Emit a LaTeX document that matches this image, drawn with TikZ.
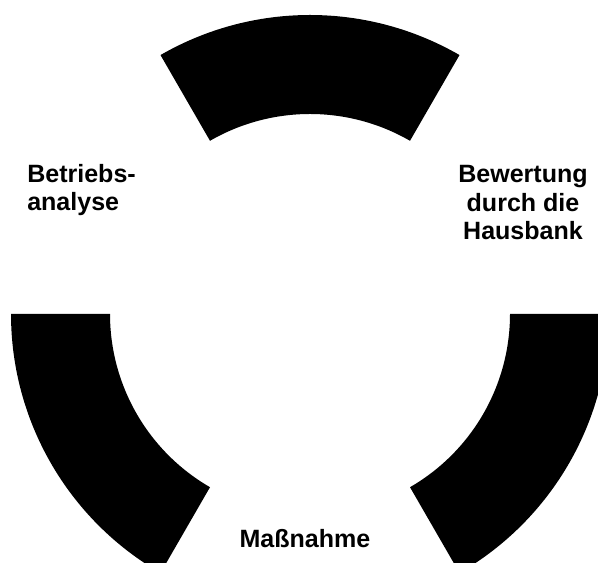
\documentclass[tikz,border=0pt]{standalone}
\usepackage{fontspec}
\setmainfont{Liberation Sans}
\usepackage{xcolor}
\usepackage{tikz}
\usetikzlibrary{positioning}
\definecolor{segclr}{RGB}{0,0,0}
\definecolor{txtclr}{RGB}{0,0,0}
\tikzset{
  seg/.style={fill=segclr,draw=none},
  lbl/.style={text=txtclr,inner sep=0pt,
              font=\fontsize{17.8}{20.4}\selectfont\bfseries},
}

\begin{document}
\begin{tikzpicture}[x=0.025cm,y=0.025cm]
\useasboundingbox (0,0) rectangle (598,563);
\clip (0,0) rectangle (598,563);
\coordinate (ctr) at (310,249);
% three ring segments
\foreach \a in {60,180,300}
  \fill[seg] (ctr) ++(\a:299) arc[start angle=\a, delta angle=60, radius=299]
    -- ++(\a+240:99) arc[start angle=\a+60, delta angle=-60, radius=200]
    -- cycle;
\node[lbl, align=left, anchor=base west] (betrieb) at (27,352)
     {Betriebs-\\analyse};
\node[lbl, align=center, anchor=base] (bank) at (523,323)
     {Bewertung\\durch die\\Hausbank};
\node[lbl, anchor=base] (mass) at (305,15) {Maßnahme};
\end{tikzpicture}
\end{document}
